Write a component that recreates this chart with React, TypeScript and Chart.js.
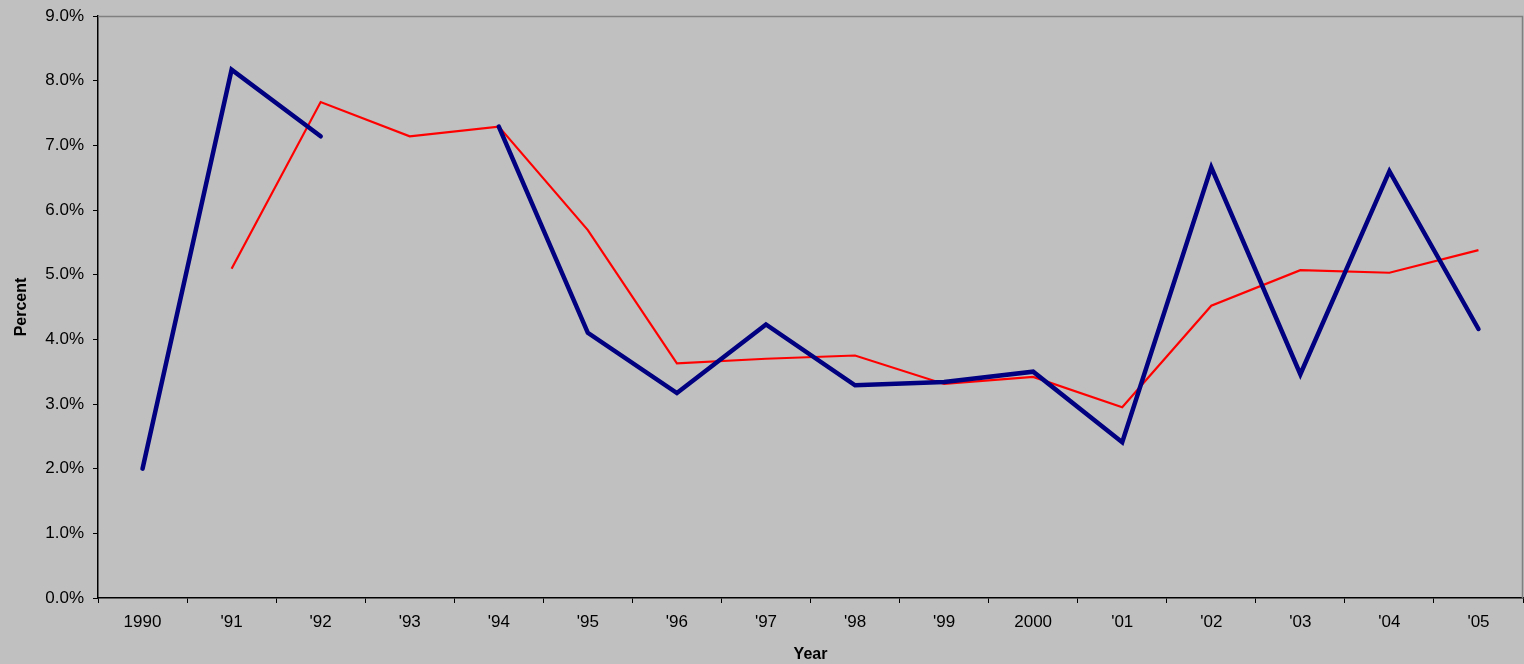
import React, { useEffect, useRef } from "react";
import { Chart, registerables } from "chart.js";

Chart.register(...registerables);

const categories = ["1990", "'91", "'92", "'93", "'94", "'95", "'96", "'97", "'98", "'99", "2000", "'01", "'02", "'03", "'04", "'05"];
const blueSeries: (number | null)[] = [2.0, 8.17, 7.14, null, 7.29, 4.1, 3.17, 4.23, 3.29, 3.34, 3.5, 2.41, 6.66, 3.46, 6.6, 4.16];
const redSeries: (number | null)[] = [null, 5.09, 7.67, 7.14, 7.29, 5.69, 3.63, 3.7, 3.75, 3.31, 3.42, 2.95, 4.52, 5.07, 5.03, 5.38];
const yMin = 0;
const yMax = 9;
const yStep = 1;

const borderPlugin = {
  id: "plotBorder",
  afterDraw(chart: any) {
    const { ctx, chartArea } = chart;
    ctx.save();
    ctx.strokeStyle = "#808080";
    ctx.lineWidth = 1.5;
    ctx.beginPath();
    ctx.moveTo(chartArea.left, chartArea.top + 0.5);
    ctx.lineTo(chartArea.right - 0.5, chartArea.top + 0.5);
    ctx.lineTo(chartArea.right - 0.5, chartArea.bottom);
    ctx.stroke();
    ctx.restore();
  },
};

export default function App() {
  const ref = useRef<HTMLCanvasElement>(null);
  useEffect(() => {
    document.body.style.margin = "0";
    const font = "'Liberation Sans', Arial, sans-serif";
    const chart = new Chart(ref.current!, {
      type: "line",
      data: {
        labels: categories,
        datasets: [
          {
            label: "Blue",
            data: blueSeries,
            borderColor: "#000080",
            borderWidth: 4.5,
            pointRadius: 0,
            spanGaps: false,
            tension: 0,
            borderCapStyle: "round",
            borderJoinStyle: "miter",
          },
          {
            label: "Red",
            data: redSeries,
            borderColor: "#FF0000",
            borderWidth: 2.2,
            pointRadius: 0,
            spanGaps: false,
            tension: 0,
          },
        ],
      },
      options: {
        animation: false,
        responsive: true,
        maintainAspectRatio: false,
        layout: { padding: { top: 16, right: 1, bottom: 0, left: 0 } },
        plugins: { legend: { display: false }, tooltip: { enabled: false } },
        scales: {
          x: {
            offset: true,
            grid: {
              offset: true,
              drawOnChartArea: false,
              drawTicks: true,
              tickLength: 5,
              color: "#000000",
              tickWidth: 1,
            },
            border: { color: "#000000", width: 1.5 },
            ticks: { color: "#000000", font: { family: font, size: 17 }, padding: 9, maxRotation: 0, autoSkip: false },
            title: {
              display: true,
              text: "Year",
              color: "#000000",
              font: { family: font, size: 16, weight: "bold" },
              padding: { top: 12, bottom: 0 },
            },
            afterFit: (s: any) => {
              s.height = 66;
              s.paddingLeft = 0;
              s.paddingRight = 0;
            },
          },
          y: {
            min: yMin,
            max: yMax,
            grid: {
              drawOnChartArea: false,
              drawTicks: true,
              tickLength: 5,
              color: "#000000",
            },
            border: { color: "#000000", width: 1.5 },
            ticks: {
              stepSize: yStep,
              color: "#000000",
              font: { family: font, size: 17 },
              padding: 9,
              callback: (v: any) => Number(v).toFixed(1) + "%",
            },
            title: {
              display: true,
              text: "Percent",
              color: "#000000",
              font: { family: font, size: 16, weight: "bold" },
              padding: { top: 12, bottom: 0 },
            },
            afterFit: (s: any) => {
              s.width = 98;
              s.paddingTop = 0;
              s.paddingBottom = 0;
            },
          },
        },
      },
      plugins: [borderPlugin],
    });
    return () => chart.destroy();
  }, []);
  return (
    <div style={{ position: "fixed", left: 0, top: 0, width: 1524, height: 664, background: "#C0C0C0" }}>
      <canvas ref={ref} />
    </div>
  );
}
